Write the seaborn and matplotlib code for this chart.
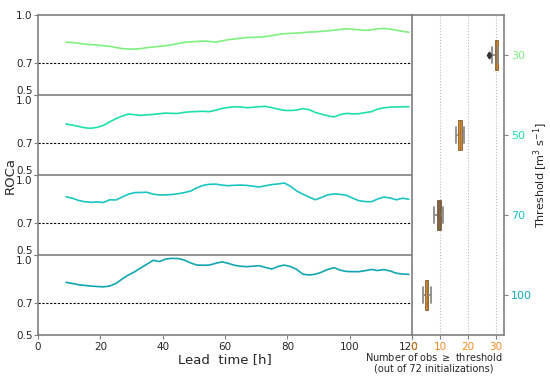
import numpy as np
import pandas as pd
import seaborn as sns
import matplotlib.pyplot as plt
from matplotlib.transforms import ScaledTranslation

# lead times [h] and ROCa per threshold
lead = list(range(9, 120, 2))
roca_30 = [0.830, 0.828, 0.823, 0.818, 0.815, 0.812, 0.808, 0.804, 0.797, 0.790,
           0.787, 0.787, 0.790, 0.796, 0.800, 0.804, 0.808, 0.814, 0.822, 0.829,
           0.832, 0.835, 0.837, 0.835, 0.830, 0.838, 0.846, 0.850, 0.855, 0.859,
           0.860, 0.862, 0.865, 0.871, 0.878, 0.883, 0.885, 0.887, 0.890, 0.893,
           0.895, 0.898, 0.901, 0.905, 0.910, 0.914, 0.911, 0.907, 0.904, 0.907,
           0.914, 0.916, 0.912, 0.905, 0.898, 0.892]
roca_50 = [0.819, 0.812, 0.804, 0.795, 0.792, 0.798, 0.810, 0.832, 0.852, 0.868,
           0.881, 0.877, 0.873, 0.876, 0.879, 0.883, 0.887, 0.885, 0.885, 0.892,
           0.895, 0.897, 0.898, 0.896, 0.905, 0.916, 0.922, 0.927, 0.925, 0.921,
           0.923, 0.927, 0.929, 0.921, 0.912, 0.904, 0.903, 0.906, 0.915, 0.908,
           0.891, 0.880, 0.870, 0.863, 0.878, 0.885, 0.882, 0.883, 0.890, 0.896,
           0.912, 0.920, 0.924, 0.925, 0.926, 0.927]
roca_70 = [0.864, 0.855, 0.841, 0.833, 0.829, 0.832, 0.828, 0.845, 0.844, 0.862,
           0.880, 0.890, 0.891, 0.892, 0.880, 0.875, 0.876, 0.878, 0.883, 0.890,
           0.900, 0.920, 0.935, 0.942, 0.943, 0.937, 0.933, 0.936, 0.937, 0.935,
           0.930, 0.925, 0.933, 0.940, 0.944, 0.950, 0.930, 0.900, 0.880, 0.862,
           0.845, 0.860, 0.876, 0.882, 0.879, 0.873, 0.855, 0.839, 0.834, 0.833,
           0.850, 0.862, 0.856, 0.845, 0.855, 0.848]
roca_100 = [0.829, 0.822, 0.814, 0.810, 0.806, 0.803, 0.801, 0.806, 0.822, 0.850,
            0.875, 0.895, 0.920, 0.943, 0.967, 0.959, 0.975, 0.979, 0.978, 0.968,
            0.950, 0.937, 0.936, 0.937, 0.948, 0.957, 0.948, 0.936, 0.930, 0.927,
            0.930, 0.933, 0.922, 0.912, 0.928, 0.937, 0.928, 0.910, 0.880, 0.875,
            0.880, 0.893, 0.910, 0.921, 0.905, 0.897, 0.896, 0.896, 0.902, 0.910,
            0.903, 0.909, 0.900, 0.886, 0.881, 0.879]

thresholds = ["30", "50", "70", "100"]
line_colors = ["#7ef07e", "#1de0aa", "#1cc4c4", "#12a6b2"]

# number of obs >= threshold (distribution over members)
nobs_30 = [27.6, 28.5, 29.6, 29.9, 30.1, 30.3, 30.6, 30.6, 30.6]
nobs_50 = [15.7, 16.2, 16.5, 16.9, 17.1, 17.4, 17.7, 18.2, 18.7]
nobs_70 = [7.7, 8.5, 9.0, 9.4, 9.6, 9.9, 10.2, 10.7, 11.2]
nobs_100 = [3.9, 4.4, 4.8, 5.1, 5.2, 5.4, 5.7, 6.2, 6.6]
box_colors = ["#d8882a", "#d8882a", "#7a6248", "#d8882a"]

sns.set_style("ticks")
plt.rcParams['font.family'] = ['DejaVu Sans']
spine_c = "#808080"

fig = plt.figure(figsize=(5.5, 3.77), dpi=100)
x0, x1 = 38 / 550, 412 / 550
top, bot = 1 - 15 / 377, 1 - 335 / 377
ph = (top - bot) / 4

def shift(lab, dx, dy):
    lab.set_transform(lab.get_transform() + ScaledTranslation(dx / 72, dy / 72, fig.dpi_scale_trans))

series = [roca_30, roca_50, roca_70, roca_100]
for i, vals in enumerate(series):
    ax = fig.add_axes([x0, top - (i + 1) * ph, x1 - x0, ph])
    df = pd.DataFrame({"lead": lead, "roca": vals})
    sns.lineplot(data=df, x="lead", y="roca", ax=ax, color=line_colors[i], lw=1.2)
    ax.axhline(0.7, color="k", ls="--", lw=0.8, dashes=(2, 1.5))
    ax.set_xlim(0, 120)
    ax.set_ylim(0.5, 1.0)
    ax.set_yticks([0.5, 0.7, 1.0])
    ax.set_yticklabels(["0.5", "0.7", "1.0"])
    ax.set_ylabel("")
    ax.tick_params(axis="y", labelsize=7.5, length=3, color=spine_c, pad=1)
    labs = ax.get_yticklabels()
    if i < 3:
        shift(labs[0], 0, 3.5)
    if i > 0:
        shift(labs[2], 0, -3.5)
    ax.spines["right"].set_visible(False)
    for s in ["left", "top", "bottom"]:
        ax.spines[s].set_color(spine_c)
        ax.spines[s].set_linewidth(1.2)
    if i < 3:
        ax.spines["bottom"].set_visible(False)
        ax.set_xticks([])
        ax.set_xlabel("")
    else:
        ax.set_xticks([0, 20, 40, 60, 80, 100, 120])
        ax.tick_params(axis="x", labelsize=7.5, length=3, color=spine_c, pad=2)
        shift(ax.get_xticklabels()[-1], -2.5, 0)
        ax.set_xlabel("Lead  time [h]", fontsize=9.5, labelpad=1)

fig.text(0.018, (top + bot) / 2, "ROCa", rotation=90, va="center", ha="center", fontsize=9.5)

# right panel: boxplots
axr = fig.add_axes([x1, bot, 92 / 550, top - bot])
dfb = pd.DataFrame({
    "thr": sum([[t] * 9 for t in thresholds], []),
    "n": nobs_30 + nobs_50 + nobs_70 + nobs_100,
})
sns.boxplot(data=dfb, x="n", y="thr", order=thresholds, hue="thr", hue_order=thresholds,
            palette=box_colors, saturation=1, legend=False, width=0.38, ax=axr, linewidth=0.5,
            linecolor="#6a4a20",
            whiskerprops=dict(color="#8a8a8a", lw=1.3),
            capprops=dict(color="#8a8a8a", lw=1.3),
            medianprops=dict(color="#8a6a40", lw=0.5),
            flierprops=dict(marker="d", markerfacecolor="#333333",
                            markeredgecolor="#333333", markersize=3.5))
axr.set_xlim(0, 32.8)
axr.set_ylim(3.5, -0.5)
axr.set_xticks([0, 10, 20, 30])
axr.tick_params(axis="x", labelsize=7.5, length=3, color=spine_c, labelcolor="#f08a1c", pad=2)
shift(axr.get_xticklabels()[0], 1.5, 0)
axr.xaxis.grid(True, ls=":", color="#bbbbbb", lw=0.8)
axr.set_xlabel("")
axr.yaxis.tick_right()
axr.yaxis.set_label_position("right")
axr.tick_params(axis="y", labelsize=8, length=3, color=spine_c, pad=2)
for lab, c in zip(axr.get_yticklabels(), line_colors):
    lab.set_color(c)
axr.set_ylabel(r"Threshold [m$^3$ s$^{-1}$]", fontsize=8, labelpad=0)
for s in axr.spines.values():
    s.set_color(spine_c)
    s.set_linewidth(1.2)

fig.text(434 / 550, 1 - 362 / 377, "Number of obs $\\geq$ threshold\n(out of 72 initializations)",
         ha="center", va="center", fontsize=7, linespacing=1.05)

fig.savefig("out.png", dpi=100)
